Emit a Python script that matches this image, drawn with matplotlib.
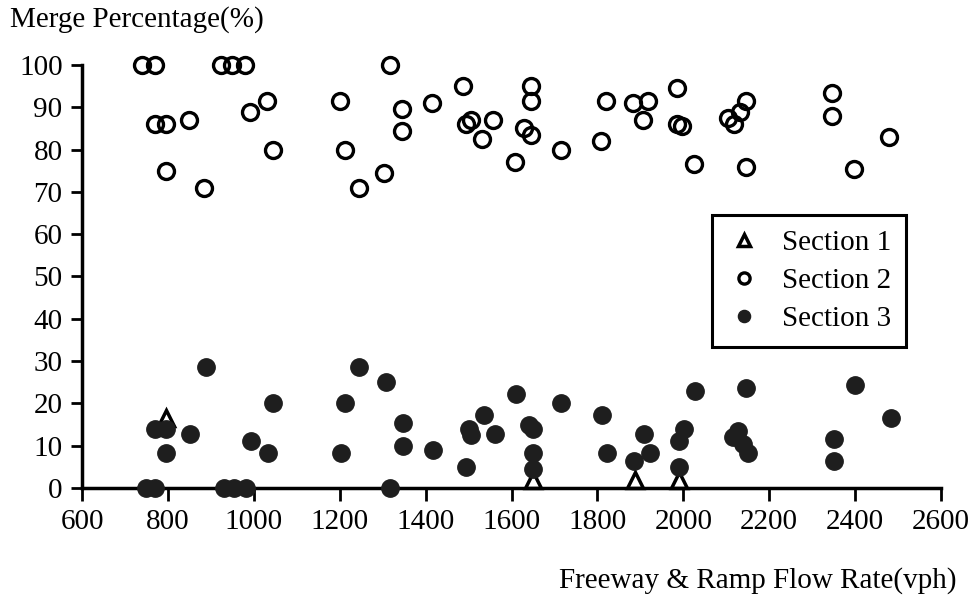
import matplotlib
matplotlib.use("Agg")
import matplotlib.pyplot as plt

plt.rcParams["font.family"] = ["Liberation Serif", "DejaVu Serif"]

# Section 1 (open triangles)
sec1_x = [795, 1649, 1887, 1990]
sec1_y = [16.5, 2, 2, 2]

# Section 2 (open circles)
sec2_x = [740, 770, 770, 795, 850, 795, 885, 923, 950, 980, 990, 1030, 1045,
          1200, 1213, 1245, 1302, 1318, 1345, 1345, 1415, 1488, 1495, 1505,
          1558, 1532, 1645, 1645, 1630, 1645, 1715, 1607, 1808, 1821, 1882,
          1918, 1907, 1985, 1985, 1998, 2024, 2105, 2119, 2133, 2145, 2145,
          2346, 2346, 2397, 2479]
sec2_y = [100, 100, 86, 86, 87, 75, 71, 100, 100, 100, 89, 91.5, 80,
          91.5, 80, 71, 74.5, 100, 89.5, 84.5, 91, 95, 86, 87,
          87, 82.5, 95, 91.5, 85, 83.5, 80, 77, 82, 91.5, 91,
          91.5, 87, 94.5, 86, 85.5, 76.5, 87.5, 86, 89, 91.5, 76,
          93.3, 88, 75.5, 83]

# Section 3 (filled circles)
sec3_x = [748, 770, 930, 953, 982, 1318, 770, 796, 796, 852, 888, 994, 1033,
          1045, 1204, 1213, 1246, 1307, 1348, 1348, 1418, 1493, 1500, 1506,
          1536, 1561, 1610, 1640, 1650, 1649, 1649, 1716, 1810, 1823, 1886,
          1909, 1923, 1990, 2002, 1990, 2027, 2115, 2127, 2138, 2150, 2146,
          2351, 2351, 2400, 2483]
sec3_y = [0, 0, 0, 0, 0, 0, 14, 14, 8.3, 12.7, 28.7, 11, 8.3,
          20, 8.3, 20, 28.7, 25, 15.4, 10, 9, 5, 14, 12.5,
          17.3, 12.8, 22.2, 15, 14, 8.2, 4.4, 20, 17.3, 8.2, 6.5,
          12.8, 8.2, 11, 14, 5, 23, 12, 13.5, 10.5, 8.3, 23.6,
          11.5, 6.5, 24.3, 16.6]

x_ticks = [600, 800, 1000, 1200, 1400, 1600, 1800, 2000, 2200, 2400, 2600]
y_ticks = [0, 10, 20, 30, 40, 50, 60, 70, 80, 90, 100]

fig = plt.figure(figsize=(9.79, 5.99), dpi=100)
ax = fig.add_axes([0.0838, 0.1853, 0.8774, 0.7062])

ax.plot(sec1_x, sec1_y, linestyle="none", marker="^", ms=12, mfc="white",
        mec="black", mew=2.5, label="Section 1", zorder=2, clip_on=False)
ax.plot(sec2_x, sec2_y, linestyle="none", marker="o", ms=11.5, mfc="none",
        mec="black", mew=2.4, label="Section 2", zorder=3, clip_on=False)
ax.plot(sec3_x, sec3_y, linestyle="none", marker="o", ms=12.5, mfc="#1e1e1e",
        mec="#1e1e1e", mew=1, label="Section 3", zorder=4, clip_on=False)

ax.set_xlim(600, 2600)
ax.set_ylim(0, 100)
ax.set_xticks(x_ticks)
ax.set_yticks(y_ticks)
ax.tick_params(axis="both", labelsize=21, width=2, direction="out")
ax.tick_params(axis="x", length=9, pad=6)
ax.tick_params(axis="y", length=8, pad=6)

for side in ["top", "right"]:
    ax.spines[side].set_visible(False)
for side in ["left", "bottom"]:
    ax.spines[side].set_linewidth(2.5)

fig.text(10 / 979, 1 - 6 / 599, "Merge Percentage(%)", fontsize=21,
         ha="left", va="top")
fig.text(957 / 979, 1 - 594 / 599, "Freeway & Ramp Flow Rate(vph)",
         fontsize=21, ha="right", va="bottom")

leg = ax.legend(loc="upper left", bbox_to_anchor=(712 / 979, 1 - 215 / 599),
                bbox_transform=fig.transFigure, fontsize=21, frameon=True,
                fancybox=False, markerscale=0.7, handletextpad=0.7,
                borderpad=0.5, labelspacing=0.4, handlelength=1.2,
                borderaxespad=0, framealpha=1)
leg.get_frame().set_edgecolor("black")
leg.get_frame().set_linewidth(2.2)

fig.savefig("out.png", dpi=100)
